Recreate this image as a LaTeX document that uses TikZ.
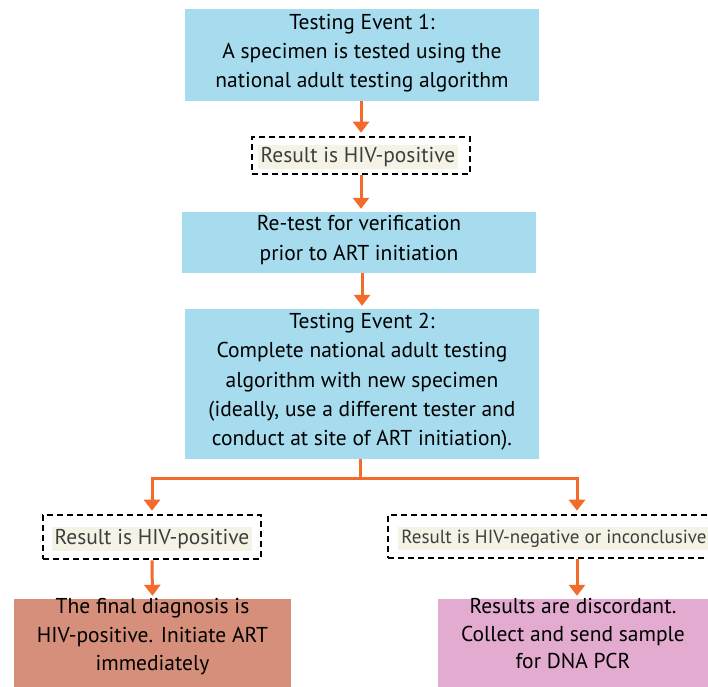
\documentclass[tikz,border=0pt]{standalone}
\usepackage{fontspec}
\setmainfont{PT Sans}
\usetikzlibrary{arrows.meta}

\definecolor{boxblue}{HTML}{A6DCEE}
\definecolor{boxsalmon}{HTML}{D68F7A}
\definecolor{boxpink}{HTML}{E2ABCF}
\definecolor{flowline}{HTML}{F36B2A}
\definecolor{hlbeige}{HTML}{F5F2E6}
\definecolor{resulttext}{HTML}{3F3F3F}

\tikzset{
  stepnode/.style={fill=#1, draw=none, inner sep=0pt, text=black, align=center,
    font=\fontsize{21.5pt}{29.3pt}\selectfont},
  resultbox/.style={draw=black, line width=2.6pt, dash pattern=on 6pt off 4pt, inner sep=0pt},
  resulttxt/.style={fill=hlbeige, text=resulttext, inner xsep=3pt, inner ysep=2.5pt,
    font=\fontsize{21.5pt}{24pt}\selectfont},
  flow/.style={draw=flowline, line width=3pt, -{Triangle[width=16pt,length=11pt]}, shorten >=3pt},
  flowseg/.style={draw=flowline, line width=3pt},
}

\begin{document}
\begin{tikzpicture}[x=1pt, y=-1pt]
  \useasboundingbox (0,0) rectangle (708,686);
  \clip (0,0) rectangle (708,686);

  % main testing steps
  \node[stepnode=boxblue, minimum width=354pt, minimum height=92pt] (b1) at (362,55) {};
  \node[stepnode=boxblue, fill=none] at (362,53)
    {Testing Event 1:\\A specimen is tested using the\\national adult testing algorithm};
  \node[stepnode=boxblue, minimum width=354pt, minimum height=61pt] (b2) at (359,242.5) {};
  \node[stepnode=boxblue, fill=none] at (359,240)
    {Re-test for verification\\prior to ART initiation};
  \node[stepnode=boxblue, minimum width=354pt, minimum height=150pt] (b3) at (362,384) {};
  \node[stepnode=boxblue, fill=none] at (362,382)
    {Testing Event 2:\\Complete national adult testing\\algorithm with new specimen\\(ideally, use a different tester and\\conduct at site of ART initiation).};

  % first result
  \node[resultbox, minimum width=218pt, minimum height=37pt] (r1) at (361,155.5) {};
  \node[resulttxt] at (358,157) {Result is HIV-positive};

  % second-round results
  \node[resultbox, minimum width=218pt, minimum height=44pt] (rl) at (152,537) {};
  \node[resulttxt] at (152,539) {Result is HIV-positive};
  \node[resultbox, minimum width=328pt, minimum height=43pt] (rr) at (552,536.5) {};
  \node[resulttxt, font=\fontsize{19pt}{22pt}\selectfont] at (554,538.5) {Result is HIV-negative or inconclusive};

  % outcomes
  \node[stepnode=boxsalmon, minimum width=277pt, minimum height=95pt] (fl) at (152.5,646.5) {};
  \node[stepnode=boxsalmon, fill=none, font=\fontsize{21.5pt}{28.5pt}\selectfont] at (152.5,637)
    {The final diagnosis is\\HIV-positive. Initiate ART\\immediately};
  \node[stepnode=boxpink, minimum width=278pt, minimum height=95pt] (fr) at (577,646.5) {};
  \node[stepnode=boxpink, fill=none, font=\fontsize{21.5pt}{27.5pt}\selectfont] at (573,634)
    {Results are discordant.\\Collect and send sample\\for DNA PCR};

  % connectors
  \draw[flow] (b1.south -| r1.north) -- (r1.north);
  \draw[flow] (r1.south) -- (r1.south |- b2.north);
  \draw[flow] (b2.south -| b1.south) -- (b3.north);

  \coordinate (jn) at (360,478);
  \draw[flowseg] (b3.south -| jn) -- (jn);
  \draw[flow] (jn) -| (rl.north);
  \draw[flow] (jn) -| (rr.north -| fr.north);

  \draw[flow] (rl.south) -- (fl.north);
  \draw[flow] (rr.south -| fr.north) -- (fr.north);
\end{tikzpicture}
\end{document}
